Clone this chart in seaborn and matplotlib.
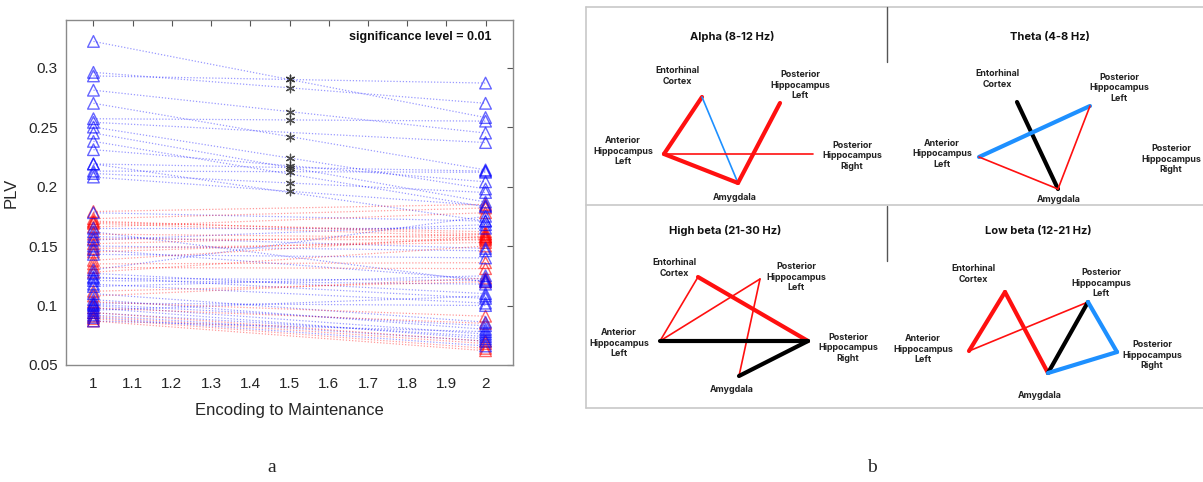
import numpy as np
import pandas as pd
import matplotlib
matplotlib.use("Agg")
import matplotlib.pyplot as plt
import seaborn as sns

# ---------------- data: panel a ----------------
# significant pairs (blue): PLV at encoding (x=1), at maintenance (x=2), asterisk value at 1.5
sig_start = [0.322, 0.296, 0.293, 0.281, 0.270, 0.257, 0.250, 0.231, 0.219, 0.213, 0.211, 0.208]
sig_end   = [0.258, 0.270, 0.287, 0.245, 0.214, 0.255, 0.198, 0.204, 0.213, 0.212, 0.195, 0.184]
sig_mid   = [0.290, 0.283, 0.290, 0.263, 0.242, 0.256, 0.224, 0.217, 0.216, 0.212, 0.203, 0.196]

# non-significant blue pairs
blue_start = [0.254, 0.245, 0.238, 0.219,
              0.178, 0.165, 0.162, 0.158, 0.155, 0.150, 0.147, 0.143, 0.130, 0.127,
              0.124, 0.121, 0.118, 0.116, 0.110, 0.105, 0.102, 0.100, 0.098, 0.096,
              0.094, 0.092, 0.090, 0.087, 0.123, 0.101]
blue_end   = [0.237, 0.187, 0.183, 0.171,
              0.171, 0.165, 0.120, 0.148, 0.168, 0.146, 0.122, 0.140, 0.175, 0.110,
              0.106, 0.118, 0.102, 0.125, 0.086, 0.080, 0.100, 0.076, 0.072, 0.108,
              0.074, 0.070, 0.066, 0.078, 0.121, 0.083]

# red pairs
red_start = [0.179, 0.173, 0.171, 0.169, 0.166, 0.160, 0.156, 0.152, 0.148, 0.138,
             0.135, 0.132, 0.128, 0.112, 0.108, 0.103, 0.098, 0.094, 0.091, 0.089,
             0.087, 0.145, 0.170]
red_end   = [0.185, 0.182, 0.160, 0.158, 0.178, 0.157, 0.155, 0.160, 0.153, 0.158,
             0.136, 0.131, 0.150, 0.120, 0.123, 0.091, 0.085, 0.070, 0.068, 0.064,
             0.062, 0.156, 0.162]

x_ticks = [1, 1.1, 1.2, 1.3, 1.4, 1.5, 1.6, 1.7, 1.8, 1.9, 2]
x_tick_labels = ["1", "1.1", "1.2", "1.3", "1.4", "1.5", "1.6", "1.7", "1.8", "1.9", "2"]
y_ticks = [0.05, 0.1, 0.15, 0.2, 0.25, 0.3]
y_tick_labels = ["0.05", "0.1", "0.15", "0.2", "0.25", "0.3"]

# ---------------- data: panel b (network diagrams) ----------------
node_text = {
    "EC": "Entorhinal\nCortex",
    "PHL": "Posterior\nHippocampus\nLeft",
    "AHL": "Anterior\nHippocampus\nLeft",
    "PHR": "Posterior\nHippocampus\nRight",
    "AMY": "Amygdala",
}
panel_titles = ["Alpha (8-12 Hz)", "Theta (4-8 Hz)", "High beta (21-30 Hz)", "Low beta (12-21 Hz)"]
panel_title_pos = [(732, 37), (1050, 37), (725, 231), (1038, 231)]
panel_nodes = [
    {"EC": (702, 97), "PHL": (780, 103), "AHL": (664, 154), "PHR": (813, 154), "AMY": (738, 183)},
    {"EC": (1017, 102), "PHL": (1090, 106), "AHL": (979, 157), "AMY": (1058, 189)},
    {"EC": (698, 277), "PHL": (760, 279), "AHL": (660, 341), "PHR": (808, 341), "AMY": (739, 376)},
    {"EC": (1005, 292), "PHL": (1088, 302), "AHL": (969, 351), "PHR": (1117, 352), "AMY": (1048, 373)},
]
panel_label_pos = [
    {"EC": (677, 76), "PHL": (800, 85), "AHL": (623, 151), "PHR": (852, 156), "AMY": (735, 197)},
    {"EC": (997, 79), "PHL": (1119, 88), "AHL": (942, 154), "PHR": (1171, 159), "AMY": (1059, 200)},
    {"EC": (674, 268), "PHL": (796, 277), "AHL": (619, 343), "PHR": (848, 348), "AMY": (732, 389)},
    {"EC": (973, 274), "PHL": (1101, 283), "AHL": (923, 349), "PHR": (1152, 355), "AMY": (1040, 395)},
]
# edges: (node a, node b, colour key, strength key)
panel_edges = [
    [("AHL", "EC", "red", "strong"), ("EC", "AMY", "blue", "weak"), ("AHL", "AMY", "red", "strong"),
     ("AMY", "PHL", "red", "strong"), ("AHL", "PHR", "red", "weak")],
    [("EC", "AMY", "black", "strong"), ("AHL", "PHL", "blue", "strong"),
     ("AHL", "AMY", "red", "weak"), ("PHL", "AMY", "red", "weak")],
    [("AHL", "EC", "red", "weak"), ("EC", "PHR", "red", "strong"), ("AHL", "PHL", "red", "weak"),
     ("PHL", "AMY", "red", "weak"), ("AHL", "PHR", "black", "strong"), ("AMY", "PHR", "black", "strong")],
    [("AHL", "EC", "red", "strong"), ("EC", "AMY", "red", "strong"), ("AHL", "PHL", "red", "weak"),
     ("AMY", "PHL", "black", "strong"), ("PHL", "PHR", "blue", "strong"), ("AMY", "PHR", "blue", "strong")],
]
edge_colors = {"red": "#ff1010", "blue": "#1e90ff", "black": "#000000"}
edge_widths = {"strong": 3.0, "weak": 1.2}

# ---------------- figure ----------------
sns.set_theme(style="white")
plt.rcParams["font.family"] = ["Liberation Sans", "DejaVu Sans"]

W, H = 1203, 482
fig = plt.figure(figsize=(W / 100, H / 100), dpi=100)
fig.patch.set_facecolor("white")

# overlay canvas in pixel coordinates for panel b and captions
cv = fig.add_axes([0, 0, 1, 1])
cv.set_xlim(0, W)
cv.set_ylim(H, 0)
cv.axis("off")
cv.patch.set_alpha(0)

# --- panel a ---
ax = fig.add_axes([66 / W, 1 - 365 / H, (513 - 66) / W, (365 - 20) / H])

rows = []
pid = 0
for s, e in zip(sig_start, sig_end):
    rows += [(pid, 1.0, s, "blue"), (pid, 2.0, e, "blue")]
    pid += 1
for s, e in zip(blue_start, blue_end):
    rows += [(pid, 1.0, s, "blue"), (pid, 2.0, e, "blue")]
    pid += 1
for s, e in zip(red_start, red_end):
    rows += [(pid, 1.0, s, "red"), (pid, 2.0, e, "red")]
    pid += 1
df = pd.DataFrame(rows, columns=["pair", "stage", "plv", "group"])
pal = {"blue": "#0000ff", "red": "#ff0000"}

sns.lineplot(data=df, x="stage", y="plv", units="pair", estimator=None, hue="group",
             palette=pal, linestyle=(0, (1, 1.5)), linewidth=0.9, alpha=0.4,
             legend=False, sort=False, ax=ax)
for g in ["red", "blue"]:
    sub = df[df.group == g]
    sns.scatterplot(x=sub["stage"], y=sub["plv"], marker="^", s=70, color=pal[g],
                    facecolors="none", edgecolor=pal[g], linewidth=1.0, alpha=0.6,
                    legend=False, ax=ax, zorder=3)
sns.scatterplot(x=[1.5] * len(sig_mid), y=sig_mid, marker=(6, 2, 0), s=38, color="#333333",
                edgecolor="#333333", linewidth=0.9, alpha=0.85, legend=False, ax=ax, zorder=4)

ax.set_xlim(0.93, 2.07)
ax.set_ylim(0.05, 0.34)
ax.set_xticks(x_ticks)
ax.set_xticklabels(x_tick_labels)
ax.set_yticks(y_ticks)
ax.set_yticklabels(y_tick_labels)
ax.tick_params(direction="in", length=4, width=0.8, color="#555555", top=True, right=True,
               labelsize=11, labelcolor="#262626", pad=9)
ax.tick_params(axis="y", pad=6)
for sp in ax.spines.values():
    sp.set_color("#8a8a8a")
    sp.set_linewidth(1.0)
ax.set_xlabel("Encoding to Maintenance", fontsize=12, color="#262626")
ax.set_ylabel("PLV", fontsize=12, color="#262626")
ax.xaxis.set_label_coords(0.5, -0.11)
ax.yaxis.set_label_coords(-0.107, 0.5)
ax.text(0.952, 0.951, "significance level = 0.01", transform=ax.transAxes, ha="right",
        va="center", fontsize=9, fontweight="bold", color="#111111")

# --- panel b ---
box_c = "#c8c8c8"
cv.plot([586, W], [7, 7], color=box_c, lw=1.2)
cv.plot([586, W], [205, 205], color=box_c, lw=1.2)
cv.plot([586, W], [408, 408], color=box_c, lw=1.2)
cv.plot([586, 586], [7, 408], color=box_c, lw=1.2)
cv.plot([887, 887], [7, 62], color="#555555", lw=1.0)
cv.plot([887, 887], [206, 261], color="#555555", lw=1.0)

nf = ["Inter", "DejaVu Sans"]
for title, tpos, nodes, lpos, edges in zip(panel_titles, panel_title_pos, panel_nodes,
                                            panel_label_pos, panel_edges):
    cv.text(tpos[0], tpos[1], title, ha="center", va="center", fontsize=8,
            fontweight="bold", family=nf, color="#111111")
    for a, b, c, w in edges:
        (x0, y0), (x1, y1) = nodes[a], nodes[b]
        cv.plot([x0, x1], [y0, y1], color=edge_colors[c], lw=edge_widths[w],
                solid_capstyle="round")
    for k, (lx, ly) in lpos.items():
        cv.text(lx, ly, node_text[k], ha="center", va="center", fontsize=6.4,
                fontweight="bold", family=nf, color="#222222", linespacing=1.15)

# captions
cv.text(272, 468, "a", ha="center", va="center", fontsize=14, family=["Liberation Serif"])
cv.text(872, 468, "b", ha="center", va="center", fontsize=14, family=["Liberation Serif"])

fig.savefig("out.png", dpi=100)
